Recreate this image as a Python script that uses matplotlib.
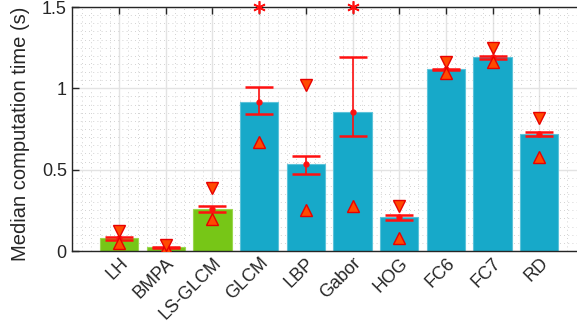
import matplotlib.pyplot as plt
from matplotlib.ticker import MultipleLocator
import numpy as np

plt.rcParams['font.family'] = ['Liberation Sans', 'DejaVu Sans']

# methods and their timings (seconds)
methods = ['LH', 'BMPA', 'LS-GLCM', 'GLCM', 'LBP', 'Gabor', 'HOG', 'FC6', 'FC7', 'RD']
median = [0.080, 0.025, 0.260, 0.915, 0.535, 0.855, 0.210, 1.117, 1.194, 0.722]
ci_low = [0.068, 0.020, 0.240, 0.842, 0.471, 0.709, 0.189, 1.110, 1.182, 0.709]
ci_high = [0.088, 0.025, 0.279, 1.010, 0.586, 1.192, 0.223, 1.119, 1.198, 0.731]
q25 = [0.047, 0.020, 0.195, 0.672, 0.252, 0.277, 0.078, 1.096, 1.164, 0.580]
q75 = [0.125, 0.037, 0.390, None, 1.020, None, 0.277, 1.164, 1.246, 0.816]
outlier = [None, None, None, 1.50, None, 1.50, None, None, None, None]
group = ['local', 'local', 'local', 'g', 'g', 'g', 'g', 'g', 'g', 'g']

green = '#77c617'
blue = '#17a9c9'

fig = plt.figure(figsize=(5.77, 3.23), dpi=100)
ax = fig.add_axes([0.1255, 0.2229, 0.890, 0.7554])

x = np.arange(1, len(methods) + 1)
cols = [green if g == 'local' else blue for g in group]
edges = ['#9ad84f' if g == 'local' else '#5cc3da' for g in group]
ax.bar(x, median, width=0.82, color=cols, edgecolor=edges, linewidth=0.8, zorder=2)

# confidence interval of the median
err = [np.array(median) - np.array(ci_low), np.array(ci_high) - np.array(median)]
ax.errorbar(x, median, yerr=err, fmt='o', color='#ff1010', ecolor='#ff1010',
            markersize=3.5, elinewidth=1.2, capsize=10, capthick=1.8, zorder=4)

# quartiles as triangles
for i in range(len(methods)):
    ax.plot(x[i], q25[i], marker='^', markersize=8, color='#ff4a00',
            markeredgecolor='#e80000', markeredgewidth=1, zorder=5)
    if q75[i] is not None:
        ax.plot(x[i], q75[i], marker='v', markersize=8, color='#ff4a00',
                markeredgecolor='#e80000', markeredgewidth=1, zorder=5)
    if outlier[i] is not None:
        ax.plot(x[i], outlier[i], marker=(6, 2, 0), markersize=9, color='#ff1010',
                markeredgewidth=1.2, clip_on=False, zorder=6)

ax.set_xlim(0, 11)
ax.set_ylim(0, 1.5)
ax.set_xticks(x)
ax.set_xticklabels(methods, rotation=45, ha='right', va='top', rotation_mode='anchor', fontsize=13)
ax.set_yticks([0, 0.5, 1, 1.5])
ax.set_yticklabels(['0', '0.5', '1', '1.5'], fontsize=13)
ax.xaxis.set_minor_locator(MultipleLocator(0.2))
ax.yaxis.set_minor_locator(MultipleLocator(0.05))
ax.tick_params(which='major', direction='in', length=5, width=1, color='#262626',
               top=True, right=True, pad=4)
ax.tick_params(axis='x', which='major', pad=2.5)
ax.tick_params(which='minor', length=0)
ax.grid(which='major', color='#e3e3e3', linewidth=1, zorder=0)
ax.grid(which='minor', color='#c4c4c4', linestyle=(0, (1, 4)), linewidth=0.6, zorder=0)
ax.set_axisbelow(True)
for s in ax.spines.values():
    s.set_color('#262626')
    s.set_linewidth(1)

ax.set_ylabel('Median computation time (s)', fontsize=14.5, color='#262626')
ax.yaxis.set_label_coords(-0.083, 0.48)
for lab in ax.get_xticklabels() + ax.get_yticklabels():
    lab.set_color('#262626')

fig.savefig('out.png', dpi=100)
